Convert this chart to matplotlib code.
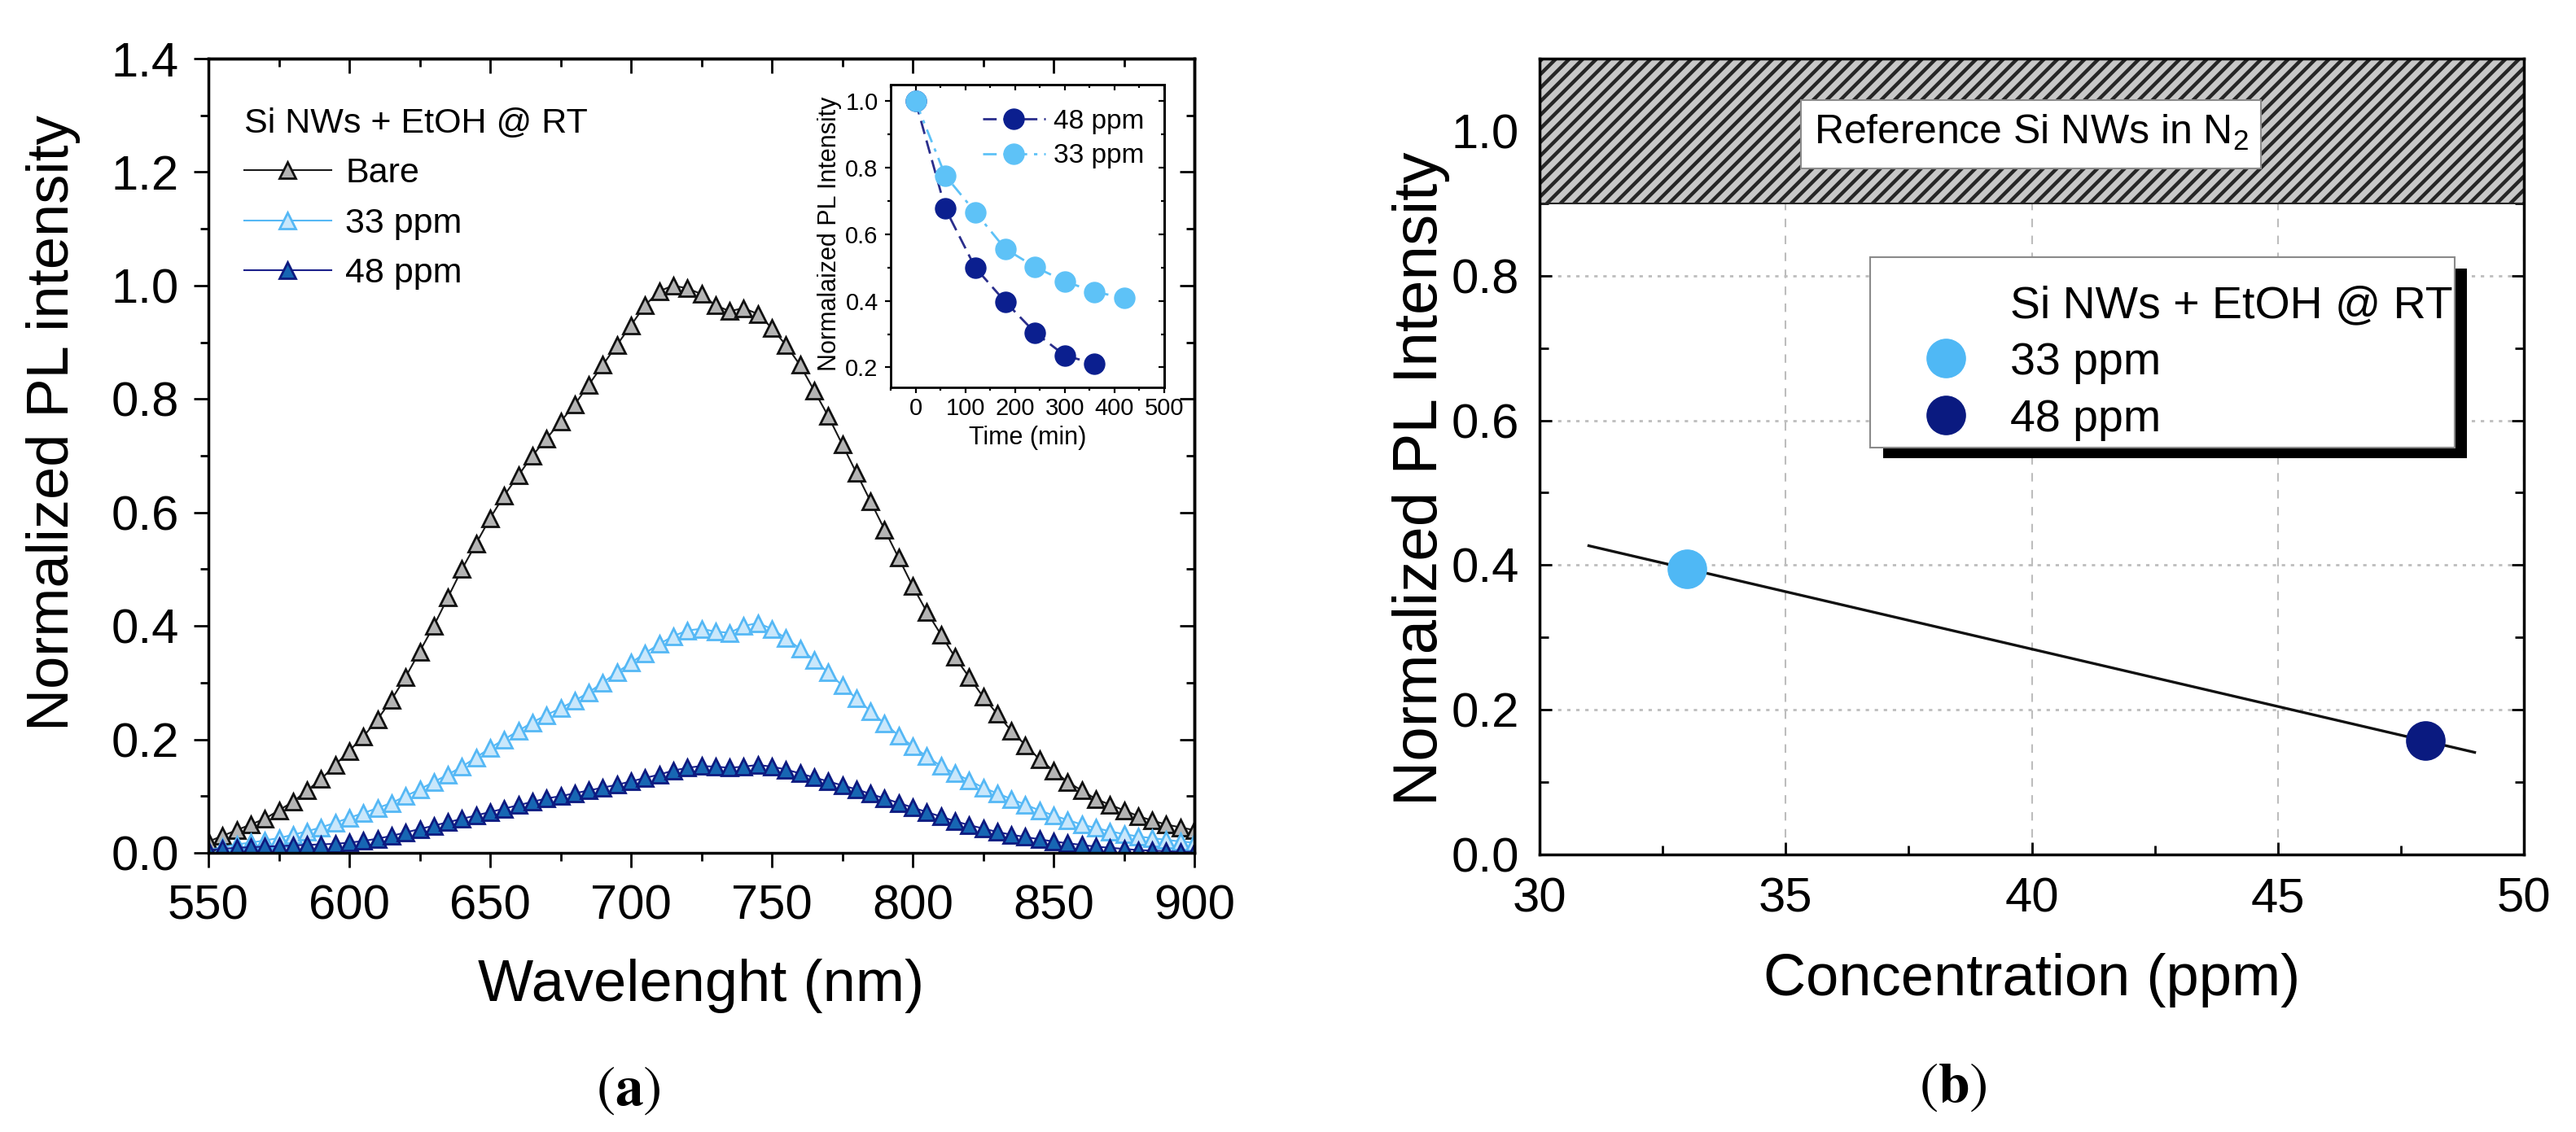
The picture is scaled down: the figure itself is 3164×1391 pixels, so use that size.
import numpy as np
import matplotlib.pyplot as plt
from matplotlib.patches import Rectangle
from matplotlib.lines import Line2D
from matplotlib.ticker import MultipleLocator

plt.rcParams['font.family'] = ['Liberation Sans', 'DejaVu Sans']
plt.rcParams['mathtext.fontset'] = 'custom'
plt.rcParams['mathtext.rm'] = 'Liberation Sans'
plt.rcParams['mathtext.it'] = 'Liberation Sans:italic'
plt.rcParams['mathtext.bf'] = 'Liberation Sans:bold'
plt.rcParams['hatch.linewidth'] = 3.2

# ---- datos panel (a): espectros PL normalizados ----
wavelength = np.arange(550, 901, 5)

pl_bare = [0.02, 0.03, 0.04, 0.05, 0.06, 0.075, 0.09, 0.11, 0.13, 0.155,
           0.18, 0.205, 0.235, 0.27, 0.31, 0.355, 0.40, 0.45, 0.50, 0.545,
           0.59, 0.63, 0.665, 0.70, 0.73, 0.76, 0.79, 0.825, 0.86, 0.895,
           0.93, 0.965, 0.99, 1.0, 0.995, 0.985, 0.965, 0.955, 0.96, 0.95,
           0.925, 0.895, 0.86, 0.815, 0.77, 0.72, 0.67, 0.62, 0.57, 0.52,
           0.47, 0.425, 0.385, 0.345, 0.31, 0.275, 0.245, 0.215, 0.19, 0.165,
           0.145, 0.125, 0.11, 0.095, 0.085, 0.075, 0.065, 0.057, 0.05, 0.045,
           0.04]

pl_33 = [0.005, 0.01, 0.015, 0.018, 0.022, 0.026, 0.032, 0.038, 0.045, 0.053,
         0.062, 0.07, 0.079, 0.088, 0.10, 0.112, 0.125, 0.138, 0.152, 0.168,
         0.185, 0.20, 0.215, 0.23, 0.243, 0.255, 0.268, 0.283, 0.30, 0.318,
         0.335, 0.352, 0.368, 0.382, 0.392, 0.395, 0.39, 0.388, 0.40, 0.405,
         0.395, 0.378, 0.36, 0.34, 0.318, 0.295, 0.272, 0.25, 0.228, 0.207,
         0.188, 0.17, 0.153, 0.14, 0.128, 0.115, 0.105, 0.095, 0.085, 0.075,
         0.066, 0.058, 0.05, 0.044, 0.038, 0.033, 0.029, 0.026, 0.023, 0.02,
         0.018]

pl_48 = [0.005, 0.007, 0.009, 0.01, 0.011, 0.012, 0.013, 0.014, 0.015, 0.016,
         0.018, 0.021, 0.025, 0.03, 0.036, 0.042, 0.048, 0.054, 0.06, 0.066,
         0.072, 0.078, 0.084, 0.09, 0.096, 0.10, 0.105, 0.11, 0.115, 0.12,
         0.126, 0.132, 0.138, 0.145, 0.15, 0.153, 0.152, 0.15, 0.152, 0.155,
         0.152, 0.147, 0.14, 0.133, 0.126, 0.119, 0.112, 0.104, 0.096, 0.088,
         0.08, 0.072, 0.064, 0.056, 0.049, 0.043, 0.037, 0.032, 0.028, 0.024,
         0.02, 0.017, 0.014, 0.011, 0.009, 0.007, 0.005, 0.004, 0.003, 0.002,
         0.002]

# ---- datos del inserto: decaimiento temporal ----
tiempo_48 = [0, 60, 120, 180, 240, 300, 360]
inset_48 = [1.0, 0.677, 0.50, 0.398, 0.305, 0.236, 0.211]
tiempo_33 = [0, 60, 120, 180, 240, 300, 360, 420]
inset_33 = [1.0, 0.776, 0.667, 0.557, 0.502, 0.459, 0.427, 0.409]

# ---- datos panel (b) ----
concentracion = [33, 48]
intensidad_b = [0.395, 0.157]
etiquetas_b = ['33 ppm', '48 ppm']

W, H = 3164, 1391
fig = plt.figure(figsize=(W / 100, H / 100), dpi=100)


def rect_px(x0, y0, x1, y1):
    return [x0 / W, 1 - y1 / H, (x1 - x0) / W, (y1 - y0) / H]


def ejes_origin(ax, xmaj, xmin, ymaj, ymin, lmaj, lmin, lw, size, padx, pady):
    # abajo/izquierda hacia afuera, arriba/derecha hacia adentro
    for s in ax.spines.values():
        s.set_linewidth(lw)
    ax.xaxis.set_major_locator(MultipleLocator(xmaj))
    ax.xaxis.set_minor_locator(MultipleLocator(xmin))
    ax.yaxis.set_major_locator(MultipleLocator(ymaj))
    ax.yaxis.set_minor_locator(MultipleLocator(ymin))
    ax.tick_params(which='both', direction='out', width=lw * 0.8, labelsize=size)
    ax.tick_params(which='major', length=lmaj)
    ax.tick_params(which='minor', length=lmin)
    ax.tick_params(axis='x', pad=padx)
    ax.tick_params(axis='y', pad=pady)
    top = ax.secondary_xaxis('top')
    top.xaxis.set_major_locator(MultipleLocator(xmaj))
    top.xaxis.set_minor_locator(MultipleLocator(xmin))
    top.tick_params(which='both', direction='in', width=lw * 0.8, labeltop=False)
    top.tick_params(which='major', length=lmaj)
    top.tick_params(which='minor', length=lmin)
    top.spines['top'].set_linewidth(lw)
    right = ax.secondary_yaxis('right')
    right.yaxis.set_major_locator(MultipleLocator(ymaj))
    right.yaxis.set_minor_locator(MultipleLocator(ymin))
    right.tick_params(which='both', direction='in', width=lw * 0.8, labelright=False)
    right.tick_params(which='major', length=lmaj)
    right.tick_params(which='minor', length=lmin)
    right.spines['right'].set_linewidth(lw)


# ================= panel (a) =================
ax_a = fig.add_axes(rect_px(256, 72, 1467, 1048))
ax_a.plot(wavelength, pl_bare, color='#1a1a1a', lw=1.5, marker='^', ms=15,
          mfc='#b4b4b4', mec='#111111', mew=2.0, label='Bare')
ax_a.plot(wavelength, pl_33, color='#55b8f5', lw=1.5, marker='^', ms=15,
          mfc='#c9e7fb', mec='#55b8f5', mew=2.0, label='33 ppm')
ax_a.plot(wavelength, pl_48, color='#1a1f8a', lw=1.5, marker='^', ms=15,
          mfc='#1766b3', mec='#0d1a80', mew=2.0, label='48 ppm')
ax_a.set_xlim(550, 900)
ax_a.set_ylim(0, 1.4)
ejes_origin(ax_a, 50, 25, 0.2, 0.1, 13, 7, 2.5, 43, 15, 13)
ax_a.set_xlabel('Wavelenght (nm)', fontsize=52)
ax_a.set_ylabel('Normalized PL intensity', fontsize=52)
ax_a.xaxis.set_label_coords(0.5, -0.133)
ax_a.yaxis.set_label_coords(-0.130, 0.541)

leg_a = ax_a.legend(title='Si NWs + EtOH @ RT', loc='upper left',
                    bbox_to_anchor=(0.036, 0.939), frameon=False, fontsize=31,
                    title_fontsize=31, alignment='left', borderpad=0,
                    borderaxespad=0, handlelength=2.5, handletextpad=0.4,
                    labelspacing=0.5)

# ----- inserto -----
ax_in = fig.add_axes(rect_px(1094, 104, 1430, 476))
ax_in.plot(tiempo_48, inset_48, color='#2a2e8c', lw=2, ls=(0, (6, 3)),
           marker='o', ms=18, mfc='#0b1f8f', mec='#0b1f8f', label='48 ppm')
ax_in.plot(tiempo_33, inset_33, color='#5ec2f7', lw=2, ls=(0, (6, 3, 1.5, 3)),
           marker='o', ms=18, mfc='#5ec2f7', mec='#5ec2f7', label='33 ppm')
ax_in.set_xlim(-50, 500)
ax_in.set_ylim(0.14, 1.05)
ejes_origin(ax_in, 100, 50, 0.2, 0.1, 5, 3, 2.0, 21, 3.5, 6)
ax_in.set_xlabel('Time (min)', fontsize=22)
ax_in.set_ylabel('Normalaized PL Intensity', fontsize=22)
ax_in.xaxis.set_label_coords(0.5, -0.126)
ax_in.yaxis.set_label_coords(-0.18, 0.508)
ax_in.legend(loc='upper left', bbox_to_anchor=(0.336, 0.92), frameon=False,
             fontsize=24, borderpad=0, borderaxespad=0, handlelength=2.3,
             handletextpad=0.3, labelspacing=0.35)

# ================= panel (b) =================
ax_b = fig.add_axes(rect_px(1891, 72, 3100, 1050))
ax_b.set_xlim(30, 50)
ax_b.set_ylim(0, 1.1)

ax_b.axhspan(0.9, 1.1, facecolor='#c8c8c8', edgecolor='#262626', hatch='//',
             linewidth=1.5, zorder=1)
ax_b.set_axisbelow(True)
ax_b.xaxis.grid(True, which='major', color='#bdbdbd', lw=1.5, ls=(0, (5, 5)))
ax_b.yaxis.grid(True, which='major', color='#bdbdbd', lw=2, ls=(0, (1.5, 2.5)))

# ajuste lineal de los dos puntos
coef = np.polyfit(concentracion, intensidad_b, 1)
x_fit = np.array([31, 49])
ax_b.plot(x_fit, np.polyval(coef, x_fit), color='#111111', lw=2.4, zorder=3)

colores_b = ['#4fb8f5', '#0a1a80']
for c, v, col, lab in zip(concentracion, intensidad_b, colores_b, etiquetas_b):
    ax_b.plot([c], [v], 'o', ms=34, mfc=col, mec=col, zorder=4, label=lab)

for s in ax_b.spines.values():
    s.set_linewidth(2.5)
    s.set_zorder(5)
ax_b.xaxis.set_major_locator(MultipleLocator(5))
ax_b.xaxis.set_minor_locator(MultipleLocator(2.5))
ax_b.yaxis.set_major_locator(MultipleLocator(0.2))
ax_b.yaxis.set_minor_locator(MultipleLocator(0.1))
ax_b.tick_params(which='both', direction='in', top=True, right=True,
                 width=2, labelsize=43)
ax_b.tick_params(which='major', length=11)
ax_b.tick_params(which='minor', length=8)
ax_b.tick_params(axis='x', pad=20)
ax_b.tick_params(axis='y', pad=18)
ax_b.set_yticks([0.0, 0.2, 0.4, 0.6, 0.8, 1.0])
ax_b.set_xlabel('Concentration (ppm)', fontsize=52)
ax_b.set_ylabel('Normalized PL Intensity', fontsize=55)
ax_b.xaxis.set_label_coords(0.5, -0.124)
ax_b.yaxis.set_label_coords(-0.091, 0.472)


def bx(px):
    return (px - 1891) / 1209


def by(py):
    return (1050 - py) / 978


# recuadro de referencia
ax_b.add_patch(Rectangle((bx(2212), by(207)), bx(2777) - bx(2212), by(123) - by(207),
                         transform=ax_b.transAxes, fc='white', ec='#8a8a8a',
                         lw=1.5, zorder=3))
ax_b.text(bx(2495), by(163), r'Reference Si NWs in N$_2$', transform=ax_b.transAxes,
          ha='center', va='center', fontsize=36, zorder=4)

# caja de leyenda con sombra
ax_b.add_patch(Rectangle((bx(2313), by(563)), bx(3030) - bx(2313), by(330) - by(563),
                         transform=ax_b.transAxes, fc='black', ec='none', zorder=6))
ax_b.add_patch(Rectangle((bx(2297), by(550)), bx(3015) - bx(2297), by(316) - by(550),
                         transform=ax_b.transAxes, fc='white', ec='#8a8a8a',
                         lw=1.5, zorder=7))
h_b, l_b = ax_b.get_legend_handles_labels()
titulo = Line2D([], [], linestyle='none')
leg_b = ax_b.legend([titulo] + h_b, ['Si NWs + EtOH @ RT'] + l_b, loc='upper left',
                    bbox_to_anchor=(bx(2362), by(350)), frameon=False, fontsize=40,
                    borderpad=0, borderaxespad=0, handlelength=1.0,
                    handletextpad=0.92, labelspacing=0.32)
leg_b.set_zorder(8)

# etiquetas (a) y (b)
fig.text(772 / W, 1 - 1340 / H, r'$(\mathbf{a})$', math_fontfamily='stix',
         ha='center', va='center', fontsize=50)
fig.text(2399 / W, 1 - 1336 / H, r'$(\mathbf{b})$', math_fontfamily='stix',
         ha='center', va='center', fontsize=50)

fig.savefig('out.png', dpi=100)
